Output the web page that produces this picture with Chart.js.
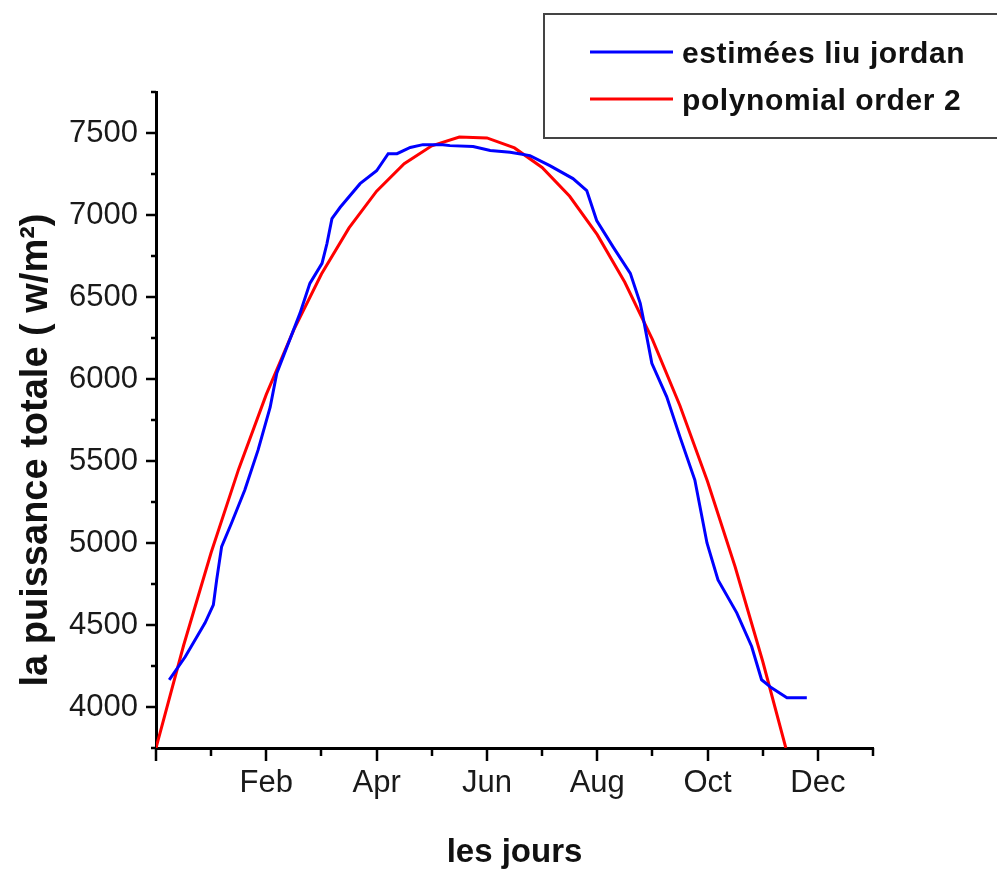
<!DOCTYPE html>
<html lang="fr">
<head>
    <meta charset="UTF-8">
    <title>Puissance totale - estimées liu jordan</title>
    <script src="https://cdn.jsdelivr.net/npm/chart.js"></script>
    <style>
        body { margin: 0; background: #fff; }
        canvas { display: block; }
    </style>
</head>
<body>
    <canvas id="grafico" width="997" height="873"></canvas>
    <script>
        // axe des x en mois (0 = début, 2 = Feb, ... 12 = Dec)
        const tickMonths = [2, 4, 6, 8, 10, 12];
        const tickNames = ['Feb', 'Apr', 'Jun', 'Aug', 'Oct', 'Dec'];
        const yTickValues = [4000, 4500, 5000, 5500, 6000, 6500, 7000, 7500];
        const xMin = 0, xMax = 13;
        const yMin = 3750, yMax = 7750;

        // estimées liu jordan
        const blueX = [0.24, 0.53, 0.89, 1.04, 1.10, 1.19, 1.37, 1.61, 1.85, 2.07, 2.19, 2.61, 2.79, 3.01, 3.10, 3.19,
                       3.34, 3.70, 4.00, 4.21, 4.37, 4.61, 4.84, 5.20, 5.33, 5.75, 6.06, 6.42, 6.78, 7.14, 7.56, 7.81,
                       7.99, 8.29, 8.60, 8.78, 8.83, 8.99, 9.26, 9.50, 9.77, 9.99, 10.19, 10.53, 10.80, 10.98, 11.16, 11.44, 11.80];
        const blueY = [4166, 4306, 4513, 4623, 4775, 4978, 5122, 5323, 5566, 5828, 6035, 6400, 6583, 6705, 6826, 6978,
                       7047, 7191, 7270, 7374, 7374, 7412, 7429, 7429, 7423, 7417, 7393, 7382, 7362, 7301, 7222, 7149,
                       6966, 6804, 6644, 6461, 6378, 6096, 5891, 5647, 5384, 5000, 4775, 4574, 4369, 4166, 4117, 4057, 4057];

        // polynomial order 2
        const redX = [0, 0.5, 1, 1.5, 2, 2.5, 3, 3.5, 4, 4.5, 5, 5.5, 6, 6.5, 7, 7.5, 8, 8.5, 9, 9.5, 10, 10.5, 11, 11.42];
        const redY = [3750, 4375, 4942, 5452, 5906, 6301, 6640, 6921, 7145, 7313, 7422, 7475, 7470, 7409, 7290, 7114,
                      6880, 6590, 6242, 5837, 5375, 4855, 4279, 3750];

        const police = "'Liberation Sans', Arial, sans-serif";
        const encre = '#1a1a1a';

        const decor = {
            id: 'decor',
            afterDraw(chart) {
                const { ctx, scales: { x, y }, chartArea: a } = chart;
                ctx.save();
                ctx.strokeStyle = '#000';
                ctx.lineWidth = 2.5;
                // graduations y
                for (let v = yMin; v <= yMax; v += 250) {
                    const py = Math.round(y.getPixelForValue(v));
                    const len = v % 500 === 0 ? 10 : 5;
                    ctx.beginPath();
                    ctx.moveTo(a.left, py);
                    ctx.lineTo(a.left - len, py);
                    ctx.stroke();
                }
                // graduations x
                for (let m = xMin; m <= xMax; m++) {
                    const px = Math.round(x.getPixelForValue(m));
                    const len = m % 2 === 0 ? 13 : 8;
                    ctx.beginPath();
                    ctx.moveTo(px, a.bottom);
                    ctx.lineTo(px, a.bottom + len);
                    ctx.stroke();
                }
                // titre axe y
                ctx.fillStyle = '#111';
                ctx.font = 'bold 38px ' + police;
                ctx.textAlign = 'center';
                ctx.textBaseline = 'middle';
                ctx.translate(37, 450);
                ctx.rotate(-Math.PI / 2);
                ctx.fillText('la puissance totale ( w/m²)', 0, 0);
                ctx.restore();

                // légende
                ctx.save();
                ctx.strokeStyle = '#444';
                ctx.lineWidth = 2;
                ctx.strokeRect(544, 14, 470, 124);
                ctx.font = 'bold 30px ' + police;
                ctx.letterSpacing = '0.6px';
                ctx.fillStyle = '#111';
                ctx.textBaseline = 'alphabetic';
                const lignes = [52, 99];
                chart.data.datasets.forEach((ds, i) => {
                    ctx.strokeStyle = ds.borderColor;
                    ctx.lineWidth = 3;
                    ctx.beginPath();
                    ctx.moveTo(590, lignes[i]);
                    ctx.lineTo(673, lignes[i]);
                    ctx.stroke();
                    ctx.fillText(ds.label, 682, lignes[i] + 11);
                });
                ctx.restore();
            }
        };

        const ctx = document.getElementById('grafico').getContext('2d');
        new Chart(ctx, {
            type: 'line',
            data: {
                datasets: [{
                    label: 'estimées liu jordan',
                    data: blueX.map((v, i) => ({ x: v, y: blueY[i] })),
                    borderColor: '#0000ff',
                    borderWidth: 3,
                    pointRadius: 0,
                    tension: 0
                }, {
                    label: 'polynomial order 2',
                    data: redX.map((v, i) => ({ x: v, y: redY[i] })),
                    borderColor: '#ff0000',
                    borderWidth: 3,
                    pointRadius: 0,
                    tension: 0
                }]
            },
            options: {
                responsive: false,
                animation: false,
                layout: { padding: { left: 0, top: 92, right: 124, bottom: 0 } },
                plugins: {
                    legend: { display: false },
                    tooltip: { enabled: false }
                },
                scales: {
                    x: {
                        type: 'linear',
                        min: xMin,
                        max: xMax,
                        afterFit: s => { s.height = 125; },
                        afterBuildTicks: s => { s.ticks = tickMonths.map(v => ({ value: v })); },
                        grid: { display: true, drawOnChartArea: false, drawTicks: false },
                        border: { display: true, color: '#000', width: 3 },
                        ticks: {
                            padding: 17,
                            maxRotation: 0,
                            autoSkip: false,
                            color: encre,
                            font: { family: police, size: 31 },
                            callback: (v, i) => tickNames[i]
                        },
                        title: {
                            display: true,
                            text: 'les jours',
                            color: '#111',
                            padding: { top: 0, bottom: 0 },
                            font: { family: police, size: 33, weight: 'bold' }
                        }
                    },
                    y: {
                        min: yMin,
                        max: yMax,
                        afterFit: s => { s.width = 156; },
                        afterBuildTicks: s => { s.ticks = yTickValues.map(v => ({ value: v })); },
                        grid: { display: true, drawOnChartArea: false, drawTicks: false },
                        border: { display: true, color: '#000', width: 3 },
                        ticks: {
                            padding: 18,
                            color: encre,
                            font: { family: police, size: 31 },
                            callback: v => String(v)
                        }
                    }
                }
            },
            plugins: [decor]
        });
    </script>
</body>
</html>
